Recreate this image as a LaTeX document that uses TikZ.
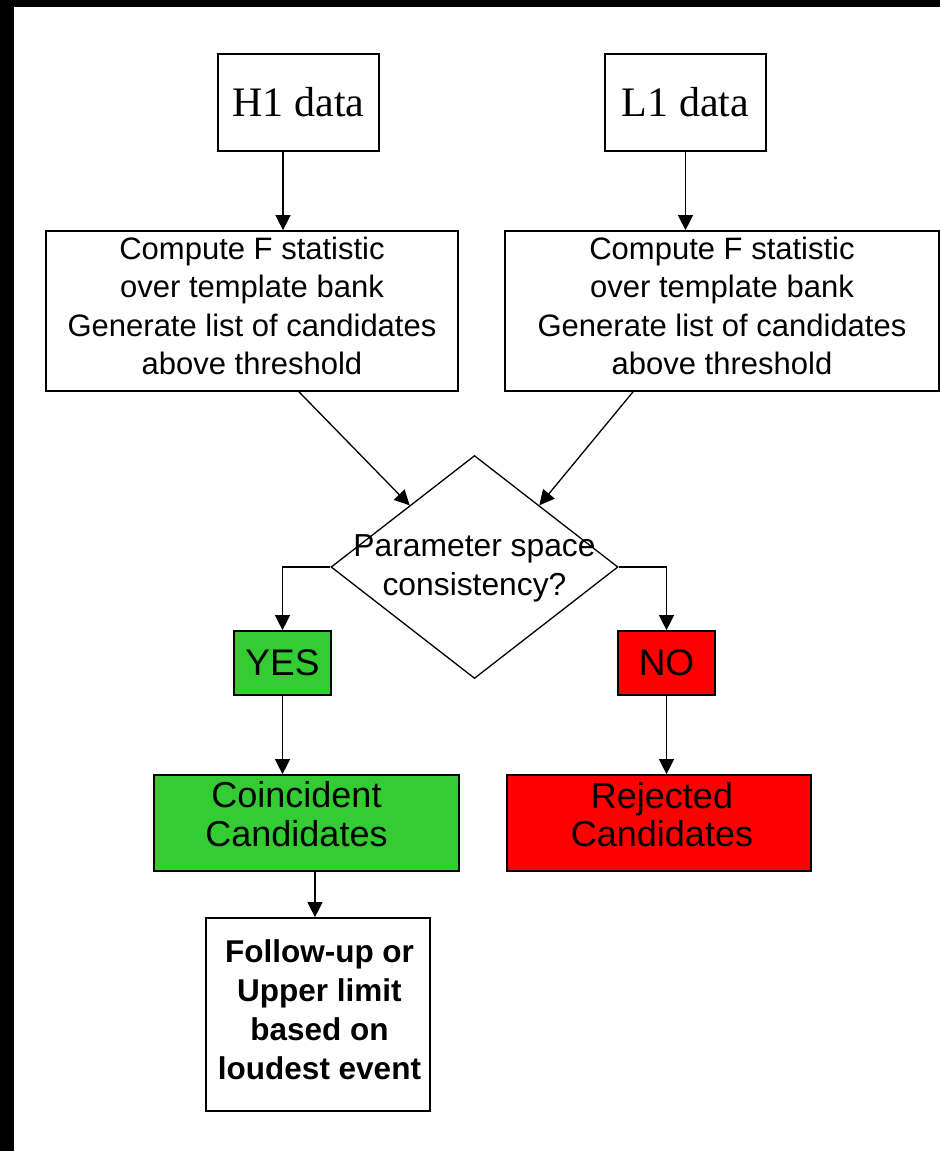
\documentclass[tikz,border=0pt]{standalone}
\usepackage{fontspec}
\setmainfont{Liberation Serif}
\setsansfont{Liberation Sans}
\usetikzlibrary{arrows.meta,shapes.geometric,calc}
\definecolor{ygreen}{HTML}{33CC33}
\definecolor{nred}{HTML}{FF0000}
\begin{document}
\begin{tikzpicture}[x=1pt,y=-1pt,
  box/.style={draw, line width=1.7pt, inner sep=0pt, align=center},
  txt/.style={inner sep=0pt, align=center},
  arr/.style={line width=1.3pt, -{Triangle[length=15pt,width=15pt]}},
  datafont/.style={font=\fontsize{42}{46}\selectfont\rmfamily},
  cfont/.style={font=\fontsize{31}{38.5}\selectfont\sffamily},
  bigfont/.style={font=\fontsize{36}{38.5}\selectfont\sffamily},
  ffont/.style={font=\fontsize{31.5}{39}\selectfont\sffamily\bfseries}]
\useasboundingbox (0,0) rectangle (940,1151);
\fill[black] (0,0) rectangle (940,7);
\fill[black] (0,0) rectangle (14,1151);

% data boxes
\node[box, minimum width=161pt, minimum height=97pt, datafont] (H1) at (298.5,102.5) {H1 data};
\node[box, minimum width=161pt, minimum height=97pt, datafont] (L1) at (685.5,102.5) {L1 data};

% compute boxes
\node[box, minimum width=412pt, minimum height=160pt] (C1) at (252,311) {};
\node[txt, cfont] (C1t) at ([yshift=5pt]C1.center) {Compute F statistic\\over template bank\\Generate list of candidates\\above threshold};
\node[box, minimum width=434pt, minimum height=160pt] (C2) at (722,311) {};
\node[txt, cfont] (C2t) at ([yshift=5pt]C2.center) {Compute F statistic\\over template bank\\Generate list of candidates\\above threshold};

% decision
\node[draw, diamond, line width=1.3pt, minimum width=287pt, minimum height=223pt, inner sep=0pt] (D) at (474.5,567) {};
\node[txt, font=\fontsize{31.8}{38.5}\selectfont\sffamily] (Dt) at ([yshift=-1.5pt]D.center) {Parameter space\\consistency?};

% yes / no
\node[box, fill=ygreen, minimum width=97pt, minimum height=64pt, font=\fontsize{37}{40}\selectfont\sffamily] (Y) at (282.5,663) {YES};
\node[box, fill=nred, minimum width=97pt, minimum height=64pt, font=\fontsize{37}{40}\selectfont\sffamily] (N) at (666.5,663) {NO};

% result boxes
\node[box, fill=ygreen, minimum width=305pt, minimum height=96pt] (CC) at (306.5,823) {};
\node[txt, bigfont] (CCt) at ([xshift=-10pt,yshift=9pt]CC.center) {Coincident\\Candidates};
\node[box, fill=nred, minimum width=304pt, minimum height=96pt] (RC) at (659,823) {};
\node[txt, bigfont] (RCt) at ([xshift=3pt,yshift=8.5pt]RC.center) {Rejected\\Candidates};

% follow-up
\node[box, minimum width=224pt, minimum height=193pt] (F) at (318,1014.5) {};
\node[txt, ffont] (Ft) at ([xshift=1.5pt,yshift=5pt]F.center) {Follow-up or\\Upper limit\\based on\\loudest event};

% connectors
\draw[arr] ([xshift=-15.5pt]H1.south) -- ([xshift=-15.5pt]H1.south |- C1.north);
\draw[arr] (L1.south) -- (L1.south |- C2.north);
\draw[arr] ([xshift=47pt]C1.south) -- ($(D.west)!0.55!(D.north)$);
\draw[arr] ([xshift=-89pt]C2.south) -- ($(D.east)!0.55!(D.north)$);
\draw[arr] (D.west) -| (Y.north);
\draw[arr] (D.east) -| (N.north);
\draw[arr] (Y.south) -- (Y.south |- CC.north);
\draw[arr] (N.south) -- (N.south |- RC.north);
\draw[arr] ([xshift=-3pt]F.north |- CC.south) -- ([xshift=-3pt]F.north);
\end{tikzpicture}
\end{document}
